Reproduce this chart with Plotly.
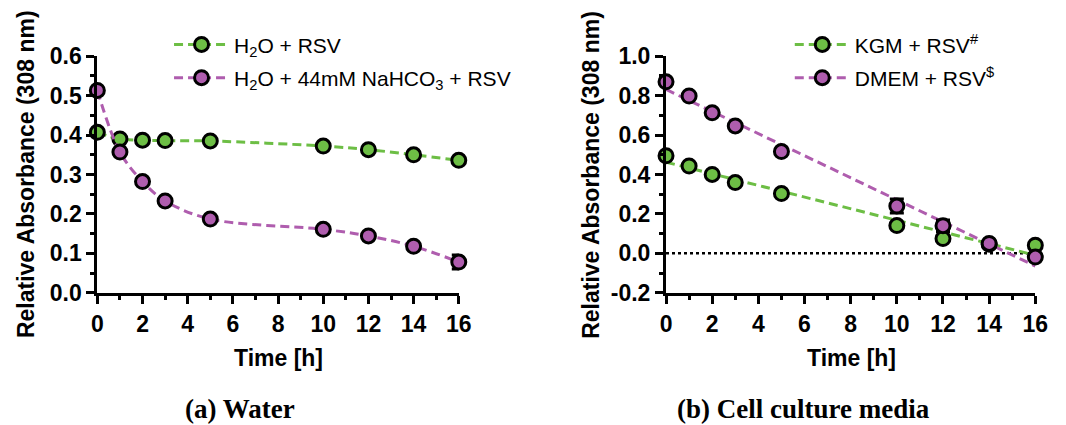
import numpy as np
import plotly.graph_objects as go

# ---------------- data ----------------
time_h = [0, 1, 2, 3, 5, 10, 12, 14, 16]

# (a) Water
water_rsv = [0.407, 0.390, 0.387, 0.386, 0.385, 0.372, 0.363, 0.350, 0.336]
water_rsv_err = [0.004, 0.003, 0.003, 0.003, 0.003, 0.004, 0.004, 0.004, 0.004]
water_nahco3_rsv = [0.513, 0.357, 0.282, 0.233, 0.187, 0.161, 0.144, 0.118, 0.078]
water_nahco3_rsv_err = [0.005, 0.005, 0.004, 0.004, 0.004, 0.004, 0.004, 0.004, 0.018]

# (b) Cell culture media
kgm_rsv = [0.495, 0.443, 0.400, 0.359, 0.303, 0.141, 0.075, 0.046, 0.041]
kgm_rsv_err = [0.008, 0.008, 0.008, 0.008, 0.008, 0.010, 0.010, 0.008, 0.008]
dmem_rsv = [0.870, 0.798, 0.713, 0.646, 0.516, 0.240, 0.140, 0.050, -0.019]
dmem_rsv_err = [0.008, 0.008, 0.008, 0.008, 0.010, 0.036, 0.029, 0.008, 0.008]

x_ticks = [0, 2, 4, 6, 8, 10, 12, 14, 16]
ya_ticks = [0.0, 0.1, 0.2, 0.3, 0.4, 0.5, 0.6]
ya_labels = ["0.0", "0.1", "0.2", "0.3", "0.4", "0.5", "0.6"]
yb_ticks = [-0.2, 0.0, 0.2, 0.4, 0.6, 0.8, 1.0]
yb_labels = ["-0.2", "0.0", "0.2", "0.4", "0.6", "0.8", "1.0"]

legend_a = ["H<sub>2</sub>O + RSV", "H<sub>2</sub>O + 44mM NaHCO<sub>3</sub> + RSV"]
legend_b = ["KGM + RSV<sup><i>#</i></sup>", "DMEM + RSV<sup>$</sup>"]

# ---------------- style ----------------
W, H = 1066, 425
GREEN = "#6DBE45"
PURPLE = "#AF5DAE"
SANS = "Liberation Sans, Arial, sans-serif"
SERIF = "Liberation Serif, Times New Roman, serif"
DASH = "9px,5px"

def px_x(p):
    return p / W

def px_y(p):
    return (H - p) / H

marker_style = lambda c: dict(size=14, color=c, line=dict(color="black", width=3))
err_style = lambda arr: dict(type="data", array=arr, visible=True, color="black",
                             thickness=3, width=7)

fig = go.Figure()

# (a) Water: smooth curves through data
for i, (name, ys, err, col) in enumerate([(legend_a[0], water_rsv, water_rsv_err, GREEN),
                                          (legend_a[1], water_nahco3_rsv, water_nahco3_rsv_err, PURPLE)]):
    fig.add_trace(go.Scatter(
        x=time_h, y=ys, name=name, mode="lines+markers", legendgroup=f"a{i}",
        line=dict(color=col, width=3, dash=DASH, shape="spline", smoothing=1.0),
        marker=marker_style(col), error_y=err_style(err),
        cliponaxis=False, xaxis="x", yaxis="y", legend="legend"))

# (b) Cell culture media: linear regression lines + points
for name, ys, err, col in [(legend_b[0], kgm_rsv, kgm_rsv_err, GREEN),
                           (legend_b[1], dmem_rsv, dmem_rsv_err, PURPLE)]:
    slope, icpt = np.polyfit(time_h, ys, 1)
    xs = [time_h[0], time_h[-1]]
    fig.add_trace(go.Scatter(
        x=xs, y=[icpt + slope * v for v in xs], mode="lines", showlegend=False,
        line=dict(color=col, width=3, dash=DASH), cliponaxis=False,
        xaxis="x2", yaxis="y2", hoverinfo="skip"))
for name, ys, err, col in [(legend_b[0], kgm_rsv, kgm_rsv_err, GREEN),
                           (legend_b[1], dmem_rsv, dmem_rsv_err, PURPLE)]:
    fig.add_trace(go.Scatter(
        x=time_h, y=ys, mode="markers", showlegend=False,
        marker=marker_style(col), error_y=err_style(err),
        cliponaxis=False, xaxis="x2", yaxis="y2"))
for i, (name, col) in enumerate([(legend_b[0], GREEN), (legend_b[1], PURPLE)]):
    fig.add_trace(go.Scatter(
        x=[None], y=[None], name=name, mode="lines+markers", legendgroup=f"b{i}",
        line=dict(color=col, width=3, dash=DASH), marker=marker_style(col),
        xaxis="x2", yaxis="y2", legend="legend2"))

# zero reference line on (b)
fig.add_shape(type="line", xref="x2", yref="y2", x0=0, x1=16, y0=0, y1=0,
              line=dict(color="black", width=2.5, dash="dot"), layer="below")

tickfont = dict(family=SANS, size=23, color="black", weight="bold")

def xaxis(dom, anchor):
    return dict(domain=dom, anchor=anchor, range=[0, 16], showgrid=False, zeroline=False,
                showline=True, linecolor="black", linewidth=3,
                ticks="outside", ticklen=8, tickwidth=3, tickcolor="black",
                tickmode="array", tickvals=x_ticks, ticktext=[str(v) for v in x_ticks],
                tickfont=tickfont, ticklabelstandoff=1,
                minor=dict(tickmode="linear", tick0=0, dtick=1, ticks="outside",
                           ticklen=4, tickwidth=3, tickcolor="black"))

def yaxis(dom, anchor, rng, tv, tt, mdt):
    return dict(domain=dom, anchor=anchor, range=rng, showgrid=False, zeroline=False,
                showline=True, linecolor="black", linewidth=3,
                ticks="outside", ticklen=8, tickwidth=3, tickcolor="black",
                tickmode="array", tickvals=tv, ticktext=tt, tickfont=tickfont,
                minor=dict(tickmode="linear", tick0=rng[0], dtick=mdt, ticks="outside",
                           ticklen=4, tickwidth=3, tickcolor="black"))

legfont = dict(family=SANS, size=21, color="black")
ydom = [px_y(298), px_y(46)]
fig.update_layout(
    width=W, height=H, margin=dict(l=0, r=0, t=0, b=0),
    paper_bgcolor="white", plot_bgcolor="white",
    xaxis=xaxis([px_x(93), px_x(461)], "y"),
    yaxis=yaxis(ydom, "x", [0, 0.6], ya_ticks, ya_labels, 0.05),
    xaxis2=xaxis([px_x(672), px_x(1048)], "y2"),
    yaxis2=yaxis(ydom, "x2", [-0.2, 1.0], yb_ticks, yb_labels, 0.1),
    legend=dict(x=px_x(166), y=px_y(12), xanchor="left", yanchor="top",
                bgcolor="rgba(0,0,0,0)", font=legfont, itemwidth=55, tracegroupgap=3),
    legend2=dict(x=px_x(798), y=px_y(12), xanchor="left", yanchor="top",
                 bgcolor="rgba(0,0,0,0)", font=legfont, itemwidth=55, tracegroupgap=3),
    showlegend=True,
)

titlefont = dict(family=SANS, size=23, color="black", weight="bold")
capfont = dict(family=SERIF, size=27, color="black", weight="bold")
ann = [
    dict(text="Relative Absorbance (308 nm)", x=px_x(21), y=px_y(172), textangle=-90, font=titlefont),
    dict(text="Relative Absorbance (308 nm)", x=px_x(596), y=px_y(172), textangle=-90, font=titlefont),
    dict(text="Time [h]", x=px_x(277), y=px_y(367), font=titlefont),
    dict(text="Time [h]", x=px_x(861), y=px_y(367), font=titlefont),
    dict(text="(a) Water", x=px_x(238), y=px_y(422), font=capfont),
    dict(text="(b) Cell culture media", x=px_x(812), y=px_y(422), font=capfont),
]
for a in ann:
    fig.add_annotation(xref="paper", yref="paper", xanchor="center", yanchor="middle",
                       showarrow=False, **a)

fig.write_html("out.html")
